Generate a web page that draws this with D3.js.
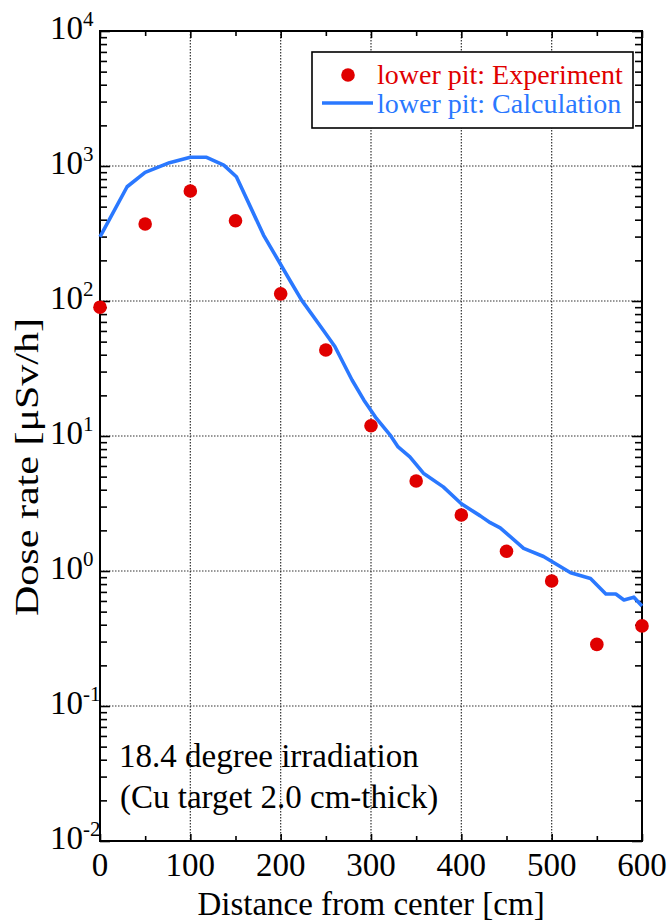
<!DOCTYPE html>
<html>
<head>
<meta charset="utf-8">
<script src="https://cdn.jsdelivr.net/npm/d3@7"></script>
<style>
  html, body { margin: 0; padding: 0; background: #fff; }
  svg { display: block; }
</style>
</head>
<body>
<svg id="chart" width="671" height="922"></svg>
<script>
// ---- data ----
const expX = [0, 50, 100, 150, 200, 250, 300, 350, 400, 450, 500, 550, 600];
const expY = [90, 372, 653, 393, 113, 43.4, 11.9, 4.64, 2.60, 1.40, 0.843, 0.286, 0.392];

const calcX = [0, 30, 50, 77, 100, 118, 137, 151, 181, 210, 223, 247, 260, 279, 292, 306, 321, 330, 343, 358, 380, 400, 421, 432, 443, 469, 491, 521, 543, 560, 571, 580, 591, 600];
const calcY = [299, 702, 898, 1058, 1160, 1160, 1016, 833, 308, 143, 102, 61, 46, 26, 18.5, 13.5, 10.2, 8.3, 7.0, 5.3, 4.2, 3.15, 2.56, 2.28, 2.09, 1.47, 1.28, 0.97, 0.88, 0.676, 0.676, 0.61, 0.64, 0.55];

const xTicks = [0, 100, 200, 300, 400, 500, 600];
const xMinorTicks = [50, 150, 250, 350, 450, 550];
const yExponents = [-2, -1, 0, 1, 2, 3, 4];

const seriesNames = ["lower pit: Experiment", "lower pit: Calculation"];
const annotation = ["18.4 degree irradiation", "(Cu target 2.0 cm-thick)"];
const xTitle = "Distance from center [cm]";
const yTitle = "Dose rate [\u03bcSv/h]";

// ---- layout ----
const L = 100, R = 642, T = 31, B = 841;
const red = "#e00000", blue = "#2a78ff";
const FONT = "'Liberation Serif', 'Times New Roman', Times, 'DejaVu Serif', serif";

const svg = d3.select("#chart").attr("font-family", FONT);
const x = d3.scaleLinear().domain([0, 600]).range([L, R]);
const y = d3.scaleLog().domain([1e-2, 1e4]).range([B, T]);

// gridlines
const grid = svg.append("g").attr("stroke", "#333").attr("stroke-width", 1.2)
  .attr("stroke-dasharray", "1.5,1.5").attr("fill", "none");
xTicks.filter(v => v > 0 && v < 600).forEach(v => {
  grid.append("line").attr("x1", x(v)).attr("x2", x(v)).attr("y1", T).attr("y2", B);
});
yExponents.filter(e => e > -2 && e < 4).forEach(e => {
  grid.append("line").attr("x1", L).attr("x2", R).attr("y1", y(Math.pow(10, e))).attr("y2", y(Math.pow(10, e)));
});

// minor log ticks on left & right
const minorY = [];
for (let e = -2; e < 4; e++) for (let k = 2; k <= 9; k++) minorY.push(k * Math.pow(10, e));

const axL = d3.axisLeft(y).tickValues(minorY).tickSize(-7).tickFormat("");
const axR = d3.axisRight(y).tickValues(minorY).tickSize(-7).tickFormat("");
const axLMaj = d3.axisLeft(y).tickValues(yExponents.map(e => Math.pow(10, e))).tickSize(-10).tickFormat("");
const axRMaj = d3.axisRight(y).tickValues(yExponents.map(e => Math.pow(10, e))).tickSize(-10).tickFormat("");
const axB = d3.axisBottom(x).tickValues(xMinorTicks).tickSize(-5).tickFormat("");
const axT = d3.axisTop(x).tickValues(xMinorTicks).tickSize(-5).tickFormat("");
const axBMaj = d3.axisBottom(x).tickValues(xTicks).tickSize(-7).tickFormat("");
const axTMaj = d3.axisTop(x).tickValues(xTicks).tickSize(-7).tickFormat("");

function styleAxis(g) {
  g.select(".domain").remove();
  g.selectAll(".tick line").attr("stroke", "#000").attr("stroke-width", 1.6);
}
svg.append("g").attr("transform", `translate(${L},0)`).call(axL).call(styleAxis);
svg.append("g").attr("transform", `translate(${R},0)`).call(axR).call(styleAxis);
svg.append("g").attr("transform", `translate(${L},0)`).call(axLMaj).call(styleAxis);
svg.append("g").attr("transform", `translate(${R},0)`).call(axRMaj).call(styleAxis);
svg.append("g").attr("transform", `translate(0,${B})`).call(axB).call(styleAxis);
svg.append("g").attr("transform", `translate(0,${T})`).call(axT).call(styleAxis);
svg.append("g").attr("transform", `translate(0,${B})`).call(axBMaj).call(styleAxis);
svg.append("g").attr("transform", `translate(0,${T})`).call(axTMaj).call(styleAxis);

// frame
svg.append("rect").attr("x", L).attr("y", T).attr("width", R - L).attr("height", B - T)
  .attr("fill", "none").attr("stroke", "#000").attr("stroke-width", 2);

// tick labels x
svg.append("g").selectAll("text").data(xTicks).join("text")
  .attr("x", d => x(d)).attr("y", 876).attr("text-anchor", "middle")
  .attr("font-size", 33).attr("fill", "#000").text(d => d);

// tick labels y
const yl = svg.append("g").selectAll("text").data(yExponents).join("text")
  .attr("x", 50).attr("y", d => y(Math.pow(10, d)) + 8)
  .attr("font-size", 33).attr("fill", "#000");
yl.append("tspan").text("10");
yl.append("tspan").attr("font-size", 21).attr("dy", -13).text(d => d);

// axis titles
svg.append("text").attr("x", (L + R) / 2).attr("y", 915).attr("text-anchor", "middle")
  .attr("font-size", 33).attr("fill", "#000").text(xTitle);
svg.append("text").attr("transform", "translate(38,467) rotate(-90)")
  .attr("text-anchor", "middle").attr("font-size", 33).attr("fill", "#000")
  .attr("textLength", 298).attr("lengthAdjust", "spacingAndGlyphs").text(yTitle);

// calculation line
const line = d3.line().x((d, i) => x(calcX[i])).y(d => y(d));
svg.append("path").datum(calcY).attr("d", line)
  .attr("fill", "none").attr("stroke", blue).attr("stroke-width", 3.6)
  .attr("stroke-linejoin", "round");

// experiment points
svg.append("g").selectAll("circle").data(expY).join("circle")
  .attr("cx", (d, i) => x(expX[i])).attr("cy", d => y(d)).attr("r", 6.8).attr("fill", red);

// legend
const lg = svg.append("g");
lg.append("rect").attr("x", 312).attr("y", 52).attr("width", 321).attr("height", 76)
  .attr("fill", "#fff").attr("stroke", "#000").attr("stroke-width", 1.6);
lg.append("circle").attr("cx", 348).attr("cy", 75).attr("r", 6.8).attr("fill", red);
lg.append("line").attr("x1", 322).attr("x2", 373).attr("y1", 103).attr("y2", 103)
  .attr("stroke", blue).attr("stroke-width", 3.6);
lg.append("text").attr("x", 377).attr("y", 84).attr("font-size", 28).attr("fill", red).text(seriesNames[0]);
lg.append("text").attr("x", 377).attr("y", 113).attr("font-size", 28).attr("fill", blue).text(seriesNames[1]);

// annotation
svg.append("text").attr("x", 119).attr("y", 767).attr("font-size", 33).attr("fill", "#000").text(annotation[0]);
svg.append("text").attr("x", 120).attr("y", 808).attr("font-size", 33).attr("fill", "#000").text(annotation[1]);
</script>
</body>
</html>
